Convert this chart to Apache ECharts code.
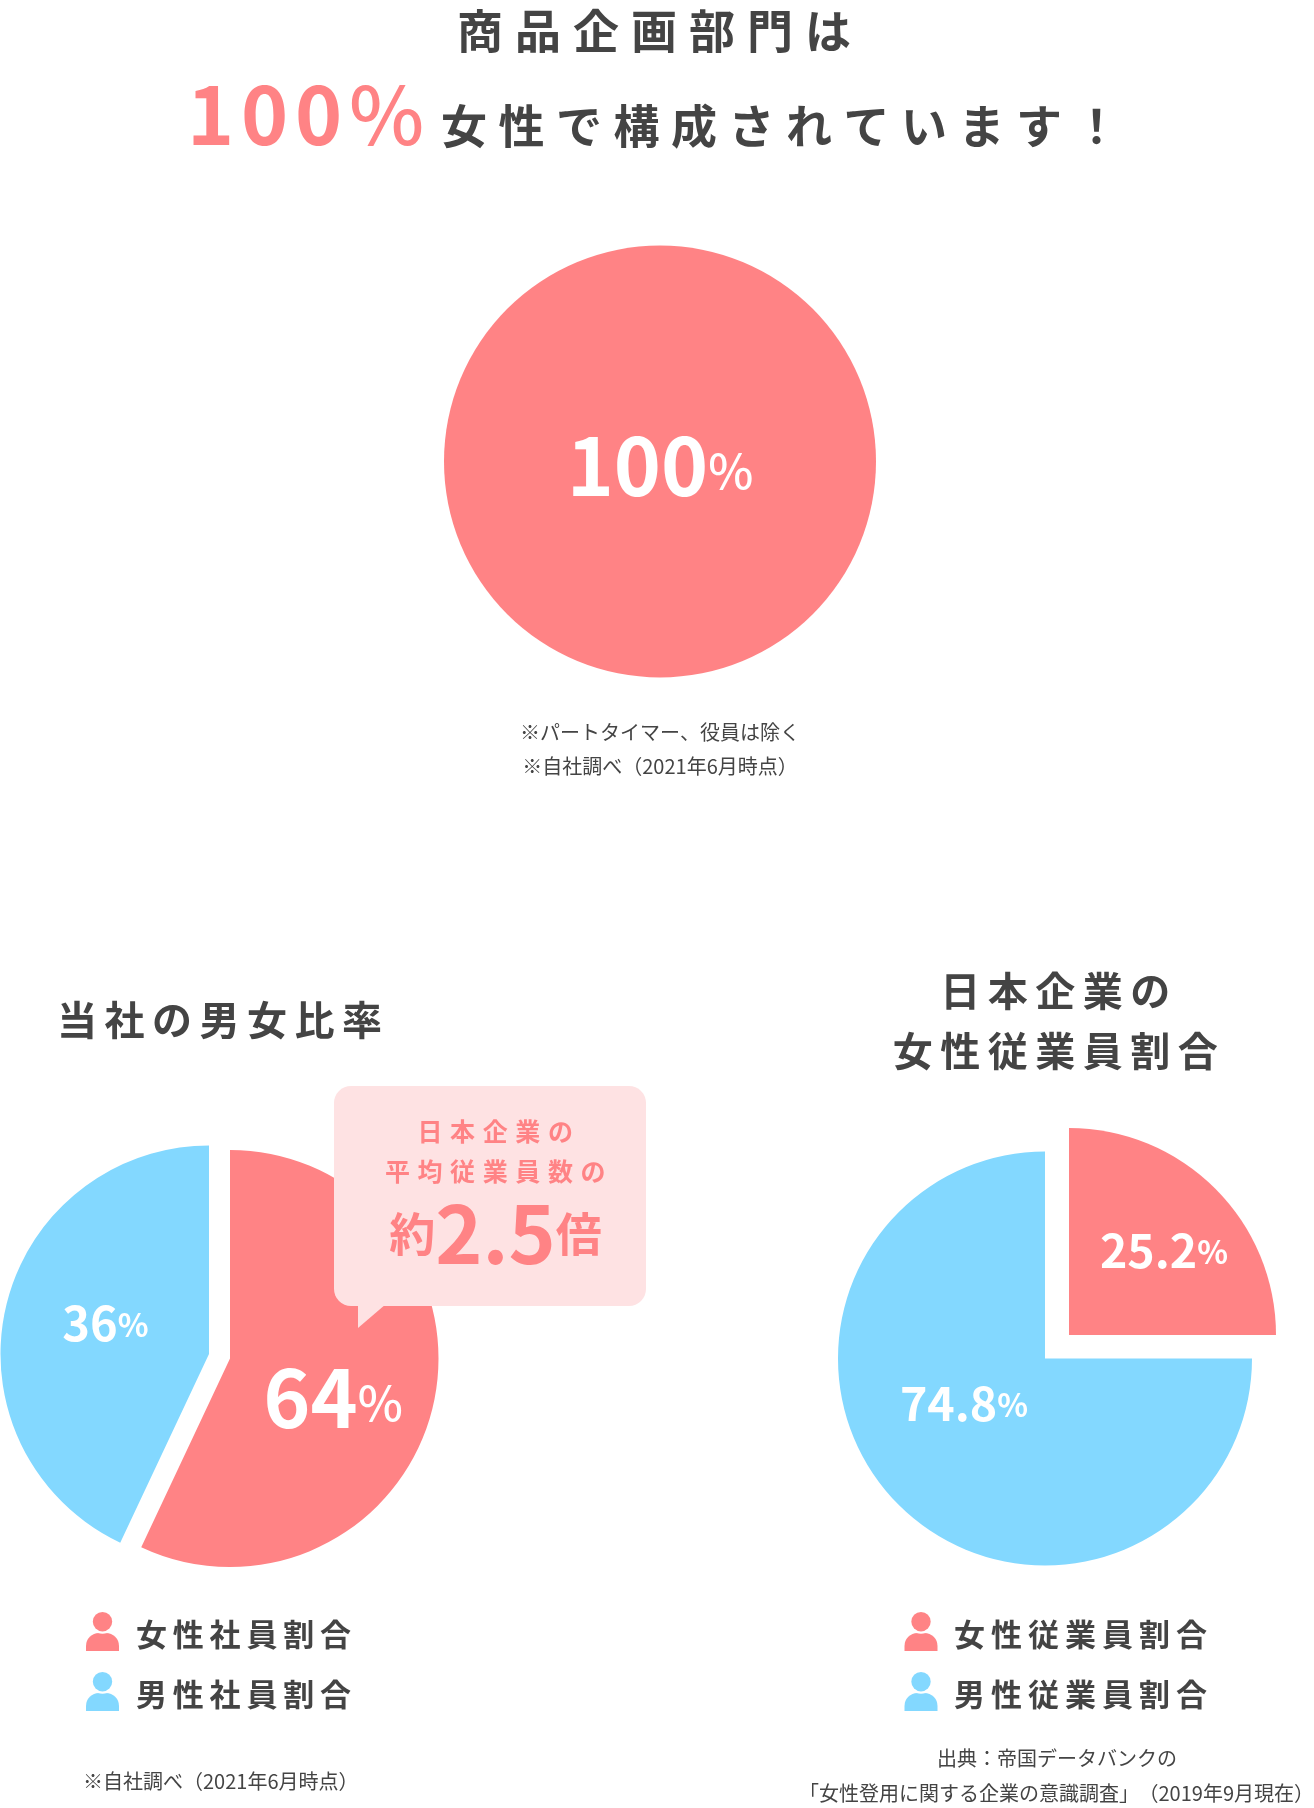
<!DOCTYPE html>
<html lang="ja">
<head>
<meta charset="utf-8">
<title>商品企画部門</title>
<style>
  html, body { margin: 0; padding: 0; background: #fff; }
  #main { width: 1314px; height: 1808px; }
</style>
<script src="https://cdn.jsdelivr.net/npm/echarts@6/dist/echarts.min.js"></script>
</head>
<body>
<div id="main"></div>
<script>
const red = '#ff8385'
const blue = '#83d8ff'
const textColor = '#444'
const fontName = '"Noto Sans CJK JP", "Noto Sans", sans-serif'

// 商品企画部門
const deptShare = [100]
const deptLabel = ['100', '%']
// 当社の男女比率 (drawn arc differs from the printed number in the original: about 57 / 43)
const companyArc = [57, 43]
const companyLabel = [['64', '%'], ['36', '%']]
// 日本企業の女性従業員割合
const japanArc = [25, 75]
const japanLabel = [['25.2', '%'], ['74.8', '%']]

const legendCompany = ['女性社員割合', '男性社員割合']
const legendJapan = ['女性従業員割合', '男性従業員割合']

// letter-spacing is not available in zrender text, so each char gets a fixed width token
function spaced (str, key) {
  return Array.from(str).map(c => `{${key}|${c}}`).join('')
}
function spacedText (str, x, y, size, pitch, fill, align, weight) {
  return {
    type: 'text',
    z: 100,
    silent: true,
    style: {
      x: x,
      y: y,
      text: spaced(str, 'c'),
      align: align || 'center',
      verticalAlign: 'middle',
      fill: fill,
      rich: {
        c: {
          width: pitch,
          align: 'left',
          fontFamily: fontName,
          fontSize: size,
          fontWeight: weight || 700,
          fill: fill,
          lineHeight: size * 1.2
        }
      }
    }
  }
}
function plainText (str, x, y, align) {
  return {
    type: 'text',
    z: 100,
    silent: true,
    style: {
      x: x,
      y: y,
      text: str,
      align: align || 'center',
      verticalAlign: 'middle',
      fill: textColor,
      fontFamily: fontName,
      fontSize: 20,
      fontWeight: 400
    }
  }
}
function person (x, y, color) {
  return {
    type: 'group',
    x: x,
    y: y,
    z: 100,
    silent: true,
    children: [
      { type: 'rect', z: 100, shape: { x: 0, y: 21, width: 33, height: 18, r: [13, 13, 0, 0] }, style: { fill: color } },
      { type: 'circle', z: 101, shape: { cx: 16.5, cy: 9.7, r: 12 }, style: { fill: '#fff' } },
      { type: 'circle', z: 102, shape: { cx: 16.5, cy: 9.7, r: 9.7 }, style: { fill: color } }
    ]
  }
}

// the big number carries a bottom padding so the % sits on the same baseline
function valueLabel (parts, x, y, big, small, bigPad, smallWeight) {
  return {
    label: {
      show: true,
      position: 'inside',
      formatter: `{n|${parts[0]}}{p|${parts[1]}}`,
      rich: {
        n: { fontFamily: fontName, fontSize: big, fontWeight: 700, color: '#fff', padding: [0, 0, bigPad, 0] },
        p: { fontFamily: fontName, fontSize: small, fontWeight: smallWeight, color: '#fff' }
      }
    },
    labelLayout: { x: x, y: y, align: 'center', verticalAlign: 'middle' }
  }
}

// one slice per series, the explode offset of the original differs per slice
function slice (center, radius, value, rest, color, first, text) {
  const on = {
    value: value,
    itemStyle: { color: color },
    label: text.label
  }
  const off = {
    value: rest,
    itemStyle: { color: 'transparent' },
    label: { show: false }
  }
  return {
    type: 'pie',
    center: center,
    radius: radius,
    startAngle: 90,
    silent: true,
    animation: false,
    avoidLabelOverlap: false,
    labelLine: { show: false },
    labelLayout: text.labelLayout,
    emphasis: { disabled: true },
    data: first ? [on, off] : [off, on]
  }
}

const myChart = echarts.init(document.getElementById('main'))
const deptText = valueLabel(deptLabel, 660, 471, 80, 48, 11, 500)
const option = {
  animation: false,
  backgroundColor: '#fff',
  series: [
    {
      type: 'pie',
      center: [660, 461.5],
      radius: 216,
      silent: true,
      animation: false,
      labelLine: { show: false },
      emphasis: { disabled: true },
      data: [{
        value: deptShare[0],
        itemStyle: { color: red },
        label: deptText.label
      }],
      labelLayout: deptText.labelLayout
    },
    slice([230, 1358.5], 208.5, companyArc[0], companyArc[1], red, true, valueLabel(companyLabel[0], 333, 1403, 80, 48, 11, 500)),
    slice([209, 1354], 208.5, companyArc[1], companyArc[0], blue, false, valueLabel(companyLabel[1], 105.5, 1325, 47, 32, 3.5, 700)),
    slice([1069, 1335], 207, japanArc[0], japanArc[1], red, true, valueLabel(japanLabel[0], 1164, 1252, 46.5, 32, 3, 700)),
    slice([1045, 1358.5], 207, japanArc[1], japanArc[0], blue, false, valueLabel(japanLabel[1], 964, 1405, 46.5, 32, 3, 700))
  ],
  graphic: {
    elements: [
      // 見出し
      spacedText('商品企画部門は', 660, 31, 46, 58, textColor),
      {
        type: 'text',
        z: 100,
        silent: true,
        style: {
          x: 187,
          y: 115,
          text: '{d|1}{d|0}{d|0}{p|%}',
          align: 'left',
          verticalAlign: 'middle',
          rich: {
            d: { width: 54, align: 'left', fontFamily: fontName, fontSize: 80, fontWeight: 700, fill: red },
            p: { fontFamily: fontName, fontSize: 80, fontWeight: 500, fill: red }
          }
        }
      },
      spacedText('女性で構成されています！', 441, 126, 46, 57.5, textColor, 'left'),
      plainText('※パートタイマー、役員は除く', 660, 732),
      plainText('※自社調べ（2021年6月時点）', 660, 766),

      // 左
      spacedText('当社の男女比率', 57, 1020, 40, 47.5, textColor, 'left'),
      { type: 'rect', z: 100, silent: true, shape: { x: 334, y: 1086, width: 312, height: 220, r: 17 }, style: { fill: '#fee2e3' } },
      { type: 'polygon', z: 100, silent: true, shape: { points: [[358, 1304], [386, 1304], [358, 1328]] }, style: { fill: '#fee2e3' } },
      spacedText('日本企業の', 499, 1131, 25, 32.6, red),
      spacedText('平均従業員数の', 499, 1171, 25, 32.6, red),
      {
        type: 'text',
        z: 101,
        silent: true,
        style: {
          x: 495.5,
          y: 1234,
          text: '{k|約}{n|2.5}{k|倍}',
          align: 'center',
          verticalAlign: 'middle',
          rich: {
            k: { fontFamily: fontName, fontSize: 46, fontWeight: 700, fill: red },
            n: { fontFamily: fontName, fontSize: 80, fontWeight: 700, fill: red }
          }
        }
      },
      person(86, 1612, red),
      person(86, 1672, blue),
      spacedText(legendCompany[0], 136, 1634, 31, 36.8, textColor, 'left'),
      spacedText(legendCompany[1], 136, 1694, 31, 36.8, textColor, 'left'),
      plainText('※自社調べ（2021年6月時点）', 83, 1781, 'left'),

      // 右
      spacedText('日本企業の', 1059, 991, 40, 47.5, textColor),
      spacedText('女性従業員割合', 1059, 1051, 40, 47.5, textColor),
      person(904.5, 1612, red),
      person(904.5, 1672, blue),
      spacedText(legendJapan[0], 954, 1634, 31, 37, textColor, 'left'),
      spacedText(legendJapan[1], 954, 1694, 31, 37, textColor, 'left'),
      plainText('出典：帝国データバンクの', 1057, 1758),
      // 2 pieces, canvas squeezes the 」（ pair otherwise
      plainText('「女性登用に関する企業の意識調査」', 799, 1793, 'left'),
      plainText('（2019年9月現在）', 1314, 1793, 'right')
    ]
  }
}
myChart.setOption(option)
</script>
</body>
</html>
